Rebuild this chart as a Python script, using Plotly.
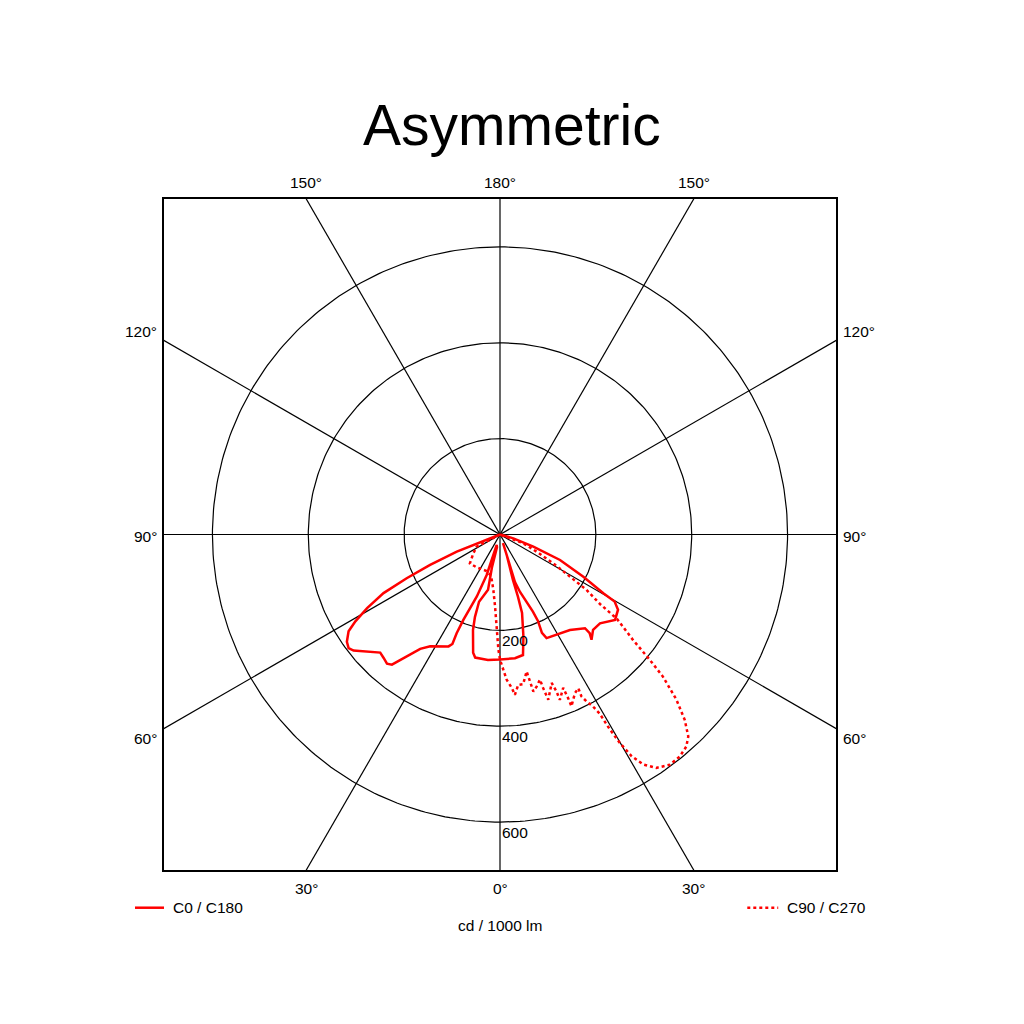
import numpy as np
import plotly.graph_objects as go

# luminous intensity distribution, cd / 1000 lm
# gamma in degrees from nadir (negative = C180 / C270 side)
c0_gamma = [-70, -67.8, -68.3, -66.5, -64.9, -63.3, -61, -59, -57.4, -55, -53.1,
            -51.6, -49.4, -45.4, -43.3, -41.2, -39.7, -38.5, -36.8, -34.9, -32,
            -24.7, -23.5, -23.7, -23.2, -20.5, -18.2, -18, -17.4,
            -13.5, -13.8, -12.2, -17.3, -16.9, -15.8, -12.8, -11.4, -5.5, 0,
            6.9, 10.8, 12.9, 15.7, 16.1, 15.9, 18, 19.4,
            18.9, 18.2, 17.5, 19.2, 21.5, 23.1, 23.7, 23.1, 24.2, 29.4, 36.2,
            42.2, 42.3, 41, 44.3, 48.4, 53.4, 57.5, 59.7, 60.4, 63.1, 67, 69.9,
            74, 74]
c0_cd = [0, 52, 97, 159, 215, 272, 317, 352, 375, 390, 395,
         390, 375, 351, 354, 358, 353, 334, 313, 291, 275,
         257, 249, 225, 194, 138, 89, 56, 23,
         27, 70, 118, 147, 180, 207, 253, 262, 263, 261,
         260, 256, 219, 170, 135, 99, 47, 19,
         39, 67, 104, 127, 153, 175, 197, 223, 237, 240, 247,
         264, 278, 291, 278, 279, 299, 292, 277, 248, 195, 136, 74,
         29, 0]

c90_gamma = [-62, -62.4, -54.8, -46.2, -34.9, -21, -12.2, -6.9, -3.9, -2, -0.8, 0,
             1.4, 2.6, 4.4, 5.3, 6.9, 8.8, 11, 11.5, 12, 13.6, 15.4, 15.7, 16.3,
             19.2, 19.8, 19.9, 22.4, 22.6, 22.6, 25.3, 27, 26.7, 27.4, 28.4,
             29.1, 29.4, 29.9, 30.7, 31.9, 33.8, 36.4, 39, 41.3, 43, 44.9, 46.9,
             48.9, 50.1, 51.6, 54.2, 55.2, 57.4, 58.9, 61.6, 64.9, 69.3, 70]
c90_cd = [0, 55, 68, 87, 84, 81, 88, 116, 151, 199, 240, 261,
          282, 303, 321, 336, 316, 316, 291, 313, 335, 326, 314, 333, 359,
          328, 348, 367, 346, 370, 388, 366, 360, 378, 392, 408,
          428, 467, 502, 538, 565, 586, 597, 596, 589, 576, 546, 504,
          451, 407, 354, 301, 254, 214, 170, 126, 84, 52, 0]

rings = [200, 400, 600]
spokes = [0, 30, 60, 90, 120, 150]
lim = 700

font = "Liberation Sans, Arial, sans-serif"


def to_xy(gamma, cd):
    g = np.radians(np.asarray(gamma, dtype=float))
    r = np.asarray(cd, dtype=float)
    return r * np.sin(g), -r * np.cos(g)


fig = go.Figure()

# grid: spokes and rings
for a in spokes:
    t = np.radians(a)
    fig.add_trace(go.Scatter(x=[-3 * lim * np.sin(t), 3 * lim * np.sin(t)],
                             y=[3 * lim * np.cos(t), -3 * lim * np.cos(t)],
                             mode="lines", line=dict(color="black", width=1.2),
                             hoverinfo="skip", showlegend=False))
th = np.linspace(0, 2 * np.pi, 361)
for r in rings:
    fig.add_trace(go.Scatter(x=r * np.cos(th), y=r * np.sin(th), mode="lines",
                             line=dict(color="black", width=1.2),
                             hoverinfo="skip", showlegend=False))

x0, y0 = to_xy(c0_gamma, c0_cd)
x90, y90 = to_xy(c90_gamma, c90_cd)
fig.add_trace(go.Scatter(x=x90, y=y90, mode="lines", name="C90 / C270",
                         line=dict(color="#ff0000", width=2.5, dash="dot"),
                         showlegend=False))
fig.add_trace(go.Scatter(x=x0, y=y0, mode="lines", name="C0 / C180",
                         line=dict(color="#ff0000", width=2.5),
                         showlegend=False))

ann = []
lab = dict(size=15.5, color="black", family=font)
# angle labels
edge = lim * np.tan(np.radians(30))
for xv, txt in [(-edge, "150°"), (0, "180°"), (edge, "150°")]:
    ann.append(dict(x=xv, y=1, xref="x", yref="paper", text=txt, showarrow=False,
                    yanchor="middle", yshift=17, font=lab))
for xv, txt in [(-edge, "30°"), (0, "0°"), (edge, "30°")]:
    ann.append(dict(x=xv, y=0, xref="x", yref="paper", text=txt, showarrow=False,
                    yanchor="middle", yshift=-18, font=lab))
for yv, txt, ys in [(edge, "120°", 9), (0, "90°", -2), (-edge, "60°", -10)]:
    ann.append(dict(x=0, y=yv, xref="paper", yref="y", text=txt, showarrow=False,
                    xanchor="right", xshift=-5, yshift=ys, font=lab))
    ann.append(dict(x=1, y=yv, xref="paper", yref="y", text=txt, showarrow=False,
                    xanchor="left", xshift=5, yshift=ys, font=lab))
# ring values
for r in rings:
    ann.append(dict(x=0, y=-r, xref="x", yref="y", text=str(r), showarrow=False,
                    xanchor="left", xshift=0, yshift=-10, font=lab))
# legend
ann.append(dict(x=0.0104, y=-0.0562, xref="paper", yref="paper", text="C0 / C180",
                showarrow=False, xanchor="left", yanchor="middle", font=lab))
ann.append(dict(x=0.924, y=-0.0562, xref="paper", yref="paper", text="C90 / C270",
                showarrow=False, xanchor="left", yanchor="middle", font=lab))
ann.append(dict(x=0.5, y=-0.082, xref="paper", yref="paper", text="cd / 1000 lm",
                showarrow=False, xanchor="center", yanchor="middle", font=lab))

shapes = [
    dict(type="line", xref="paper", yref="paper", x0=-0.0432, x1=0, y0=-0.0562, y1=-0.0562,
         line=dict(color="#ff0000", width=2.5)),
    dict(type="line", xref="paper", yref="paper", x0=0.868, x1=0.914, y0=-0.0562, y1=-0.0562,
         line=dict(color="#ff0000", width=2.5, dash="dot")),
]

ax = dict(range=[-lim, lim], showgrid=False, zeroline=False, showticklabels=False,
          ticks="", showline=True, mirror=True, linecolor="black", linewidth=1.8)
fig.update_layout(
    width=1024, height=1024,
    margin=dict(l=156, r=196, t=191, b=162),
    paper_bgcolor="white", plot_bgcolor="white",
    title=dict(text="Asymmetric", x=0.492, xref="container", y=0.886, yref="container",
               xanchor="center", yanchor="middle",
               font=dict(size=57, color="black", family=font)),
    xaxis=ax, yaxis=dict(ax, scaleanchor="x", scaleratio=1),
    annotations=ann, shapes=shapes, showlegend=False,
)

fig.write_html("out.html")
